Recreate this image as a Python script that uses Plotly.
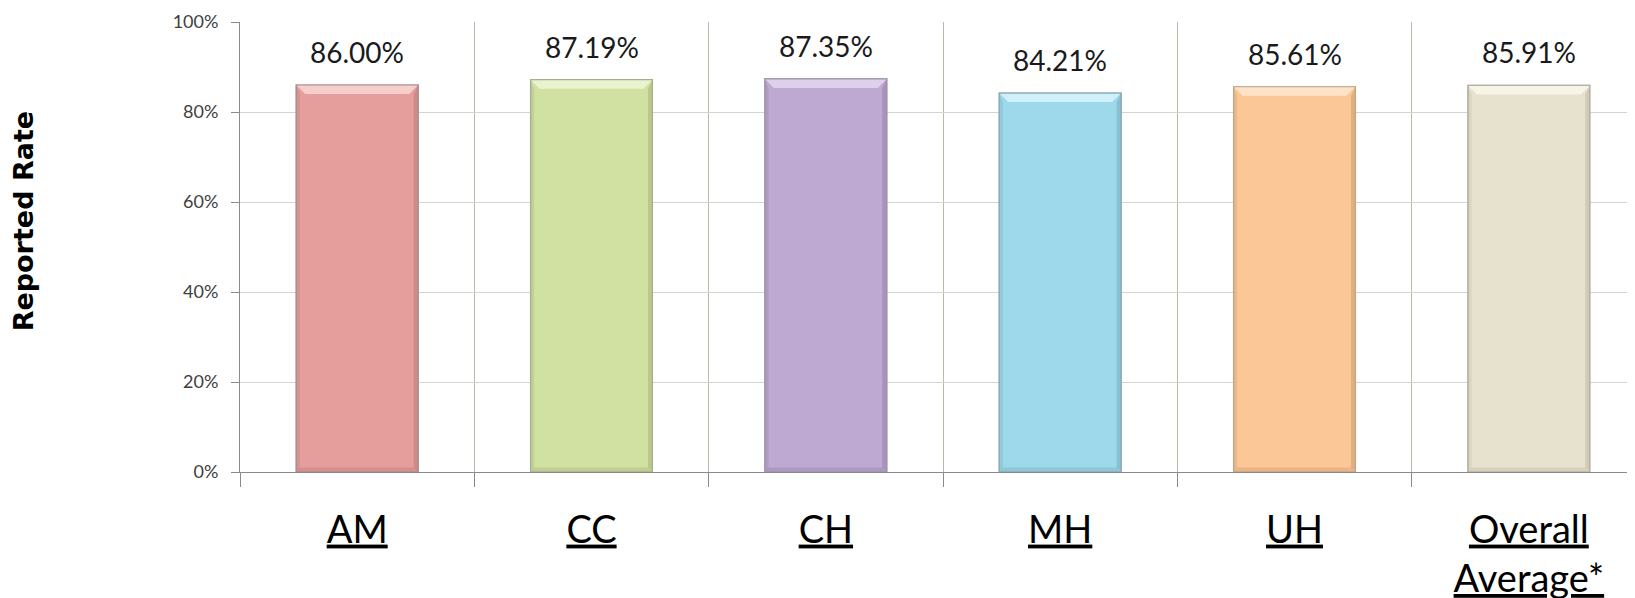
import plotly.graph_objects as go

categories = ["AM", "CC", "CH", "MH", "UH", "Overall Average*"]
tick_text = ["<u>AM</u>", "<u>CC</u>", "<u>CH</u>", "<u>MH</u>", "<u>UH</u>", "<u>Overall</u><br><u>Average*</u>"]
values = [0.8600, 0.8719, 0.8735, 0.8421, 0.8561, 0.8591]
bar_colors = ["#E59E9C", "#D1E1A2", "#BDA9D1", "#9DD9EA", "#FCC796", "#E7E2CD"]
top_colors = ["#F6CFCD", "#EAF3CF", "#DED0EA", "#CFF0F8", "#FFE3C8", "#F7F4E8"]
side_dark = ["#C98683", "#B3C385", "#A28DB6", "#83BCCC", "#DDA978", "#CBC6B0"]
edge_colors = ["#A98F8E", "#A5AD95", "#9F95AA", "#8EAAB3", "#BFA68E", "#B3B0A4"]

FONT = "Lato"
BAR_W = 0.52
BEV_X = 0.038   # bevel depth in x units
BEV_Y = 0.02    # bevel depth in y units

xpos = list(range(len(categories)))

fig = go.Figure()
fig.add_trace(go.Bar(
    x=xpos, y=values, width=BAR_W,
    marker=dict(color=bar_colors, line=dict(color=edge_colors, width=1.2)),
    hoverinfo="skip",
))

shapes = []
for i, v in enumerate(values):
    x0, x1 = i - BAR_W / 2, i + BAR_W / 2
    shapes.append(dict(type="path", xref="x", yref="y", layer="above",
                       path=f"M{x0},{v} L{x1},{v} L{x1-BEV_X},{v-BEV_Y} L{x0+BEV_X},{v-BEV_Y} Z",
                       fillcolor=top_colors[i], line=dict(width=0)))
    shapes.append(dict(type="path", xref="x", yref="y", layer="above",
                       path=f"M{x1},{v} L{x1},0 L{x1-BEV_X*0.5},{BEV_Y*0.5} L{x1-BEV_X*0.5},{v-BEV_Y} Z",
                       fillcolor=side_dark[i], line=dict(width=0), opacity=0.8))
    shapes.append(dict(type="path", xref="x", yref="y", layer="above",
                       path=f"M{x0},{v} L{x0},0 L{x0+BEV_X*0.4},{BEV_Y*0.4} L{x0+BEV_X*0.4},{v-BEV_Y} Z",
                       fillcolor=side_dark[i], line=dict(width=0), opacity=0.5))
    shapes.append(dict(type="path", xref="x", yref="y", layer="above",
                       path=f"M{x0},0 L{x1},0 L{x1-BEV_X*0.5},{BEV_Y*0.5} L{x0+BEV_X*0.4},{BEV_Y*0.5} Z",
                       fillcolor=side_dark[i], line=dict(width=0), opacity=0.6))
    shapes.append(dict(type="rect", xref="x", yref="y", layer="above",
                       x0=x0, x1=x1, y0=0, y1=v,
                       line=dict(color=edge_colors[i], width=1.2), fillcolor="rgba(0,0,0,0)"))

for i, v in enumerate(values):
    fig.add_annotation(x=i, y=v, text=f"{v*100:.2f}%", showarrow=False,
                       yanchor="middle", yshift=33,
                       font=dict(family=FONT, size=28, color="#1a1a1a"))

fig.add_annotation(xref="paper", yref="paper", x=-0.1677, y=0.556,
                   text="<b>Reported Rate</b>", textangle=-90, showarrow=False,
                   font=dict(family="DejaVu Sans", size=27, color="#000000"))

# the page body adds an 8px offset; size the figure to fill the window exactly
fig.update_layout(
    width=1627, height=590,
    margin=dict(l=232, r=0, t=14, b=126),
    paper_bgcolor="white", plot_bgcolor="white",
    showlegend=False,
    shapes=shapes,
)
fig.update_xaxes(
    type="linear", range=[-0.5, 5.453], automargin=False,
    tickmode="array", tickvals=xpos, ticktext=tick_text,
    ticks="outside", ticklen=14, tickcolor="rgba(0,0,0,0)",
    ticklabelstandoff=10,
    showgrid=False, zeroline=False,
    minor=dict(tickmode="array", tickvals=[i - 0.5 for i in range(len(categories) + 1)],
               ticks="outside", ticklen=14, tickcolor="#8a8a8a",
               showgrid=True, gridcolor="#BDB8A4", gridwidth=1),
    showline=True, linecolor="#8a8a8a", linewidth=1,
    tickfont=dict(family=FONT, size=38, color="#000000"),
)
fig.update_yaxes(
    range=[0, 1], dtick=0.2, tickformat=".0%", automargin=False,
    ticks="outside", ticklen=8, tickcolor="#8a8a8a",
    ticklabelstandoff=9,
    showgrid=True, gridcolor="#D4D4D4", gridwidth=1, zeroline=False,
    showline=True, linecolor="#8a8a8a", linewidth=1,
    tickfont=dict(family=FONT, size=18, color="#404040"),
)

fig.write_html("out.html")
